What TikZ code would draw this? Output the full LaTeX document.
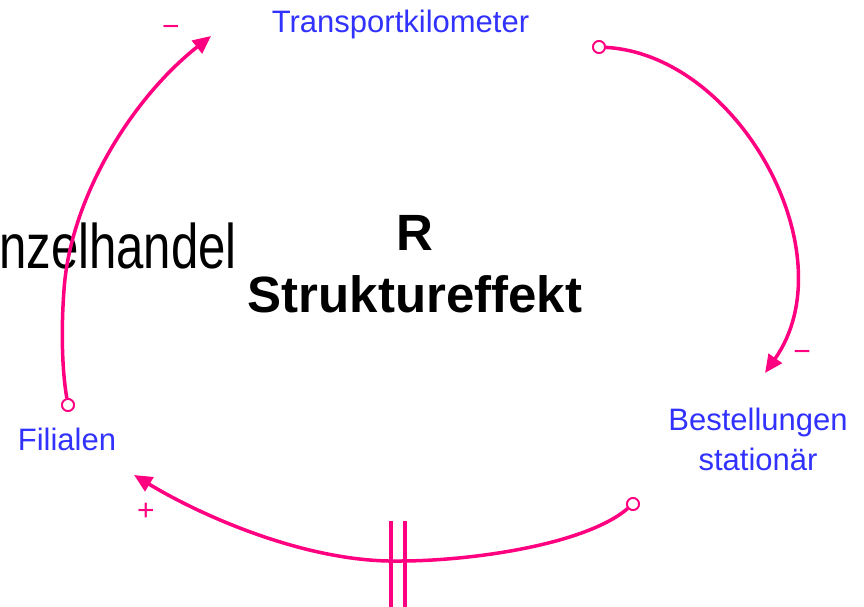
\documentclass[tikz,border=0pt]{standalone}
\usepackage{fontspec}
\setmainfont{Liberation Sans}
\usetikzlibrary{arrows.meta}
\definecolor{linkpink}{RGB}{255,0,128}
\definecolor{varblue}{RGB}{50,50,255}
\tikzset{
  varlabel/.style={inner sep=0pt, text=varblue, font=\fontsize{31}{40}\selectfont, align=center, anchor=base},
  link/.style={draw=linkpink, line width=3.5pt, -{Triangle[length=18pt,width=16pt]}},
  tail/.style={circle, draw=linkpink, line width=1.8pt, minimum size=12pt, inner sep=0pt, fill=white},
  polarity/.style={inner sep=0pt, text=linkpink, font=\fontsize{30}{30}\selectfont},
  delay/.style={draw=linkpink, line width=4.5pt},
}
\begin{document}
\begin{tikzpicture}[x=1pt,y=-1pt]
\useasboundingbox (0,0) rectangle (864,607);
% labels
\node[varlabel] (tk) at (400.5,33) {Transportkilometer};
\node[varlabel] (fil) at (67,450) {Filialen};
\node[varlabel] (best) at (758,470) {Bestellungen\\stationär};
\node[inner sep=0pt, anchor=base, align=center, font=\bfseries\fontsize{51}{62}\selectfont] (loop) at (415,312) {R\\Struktureffekt};
\node[inner sep=0pt, anchor=base west, font=\fontsize{63}{70}\selectfont] (ez) at (-1,268) {\scalebox{0.78}[1]{nzelhandel}};
% tails
\node[tail] (t1) at (599,47) {};
\node[tail] (t2) at (633,504) {};
\node[tail] (t3) at (68,405) {};
% arrow ends
\coordinate (h1) at (765,373);
\coordinate (h2) at (134,475);
\coordinate (h3) at (211,36);
\coordinate (m2) at (400,561);
\coordinate (m3) at (64,290);
% links
\draw[link] (t1) .. controls (740,55) and (848,255) .. (h1);
\draw[link] (t2) .. controls (585,545) and (470,561) .. (m2) .. controls (310,563) and (205,518) .. (h2);
\draw[link] (t3) .. controls (62,370) and (61,330) .. (m3) .. controls (70,200) and (130,100) .. (h3);
% delay marks
\coordinate (d1) at (391,521);
\coordinate (d2) at (405,521);
\draw[delay] (d1) -- ++(0,90);
\draw[delay] (d2) -- ++(0,90);
% polarities
\node[polarity] (p1) at (802,356) {−};
\node[polarity] (p2) at (146,512) {+};
\node[polarity] (p3) at (171,31) {−};
% redraw tails on top
\node[tail] at (t1) {};
\node[tail] at (t2) {};
\node[tail] at (t3) {};
\end{tikzpicture}
\end{document}
